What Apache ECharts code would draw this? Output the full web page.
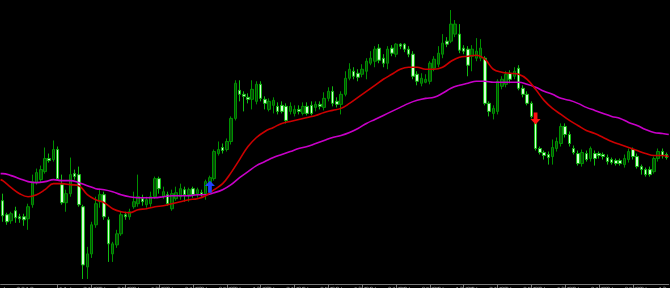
<!DOCTYPE html>
<html><head><meta charset="utf-8">
<script src="https://cdn.jsdelivr.net/npm/echarts@6/dist/echarts.min.js"></script>
<style>html,body{margin:0;padding:0;background:#000;}#c{width:670px;height:288px;}</style>
</head><body><div id="c"></div>
<script>
const opens = [
1.1284,1.1270,1.1264,1.1274,1.1268,1.1268,1.1266,1.1280,1.1302,1.1305,
1.1313,1.1326,1.1325,1.1335,1.1300,1.1282,1.1291,1.1311,1.1310,1.1278,
1.1218,1.1231,1.1260,1.1283,1.1290,1.1265,1.1231,1.1240,1.1251,1.1270,
1.1268,1.1278,1.1281,1.1286,1.1280,1.1281,1.1288,1.1306,1.1288,1.1290,
1.1276,1.1286,1.1288,1.1295,1.1290,1.1296,1.1291,1.1292,1.1291,1.1301,
1.1306,1.1331,1.1337,1.1335,1.1343,1.1366,1.1394,1.1390,1.1387,1.1385,
1.1383,1.1400,1.1385,1.1375,1.1379,1.1378,1.1379,1.1378,1.1373,1.1371,
1.1375,1.1371,1.1378,1.1379,1.1377,1.1380,1.1377,1.1386,1.1393,1.1383,
1.1380,1.1390,1.1406,1.1413,1.1411,1.1410,1.1413,1.1421,1.1423,1.1436,
1.1426,1.1421,1.1436,1.1430,1.1440,1.1440,1.1435,1.1430,1.1410,1.1401,
1.1402,1.1403,1.1416,1.1420,1.1430,1.1443,1.1443,1.1450,1.1450,1.1436,
1.1435,1.1428,1.1426,1.1426,1.1426,1.1381,1.1371,1.1373,1.1398,1.1400,
1.1411,1.1408,1.1416,1.1396,1.1390,1.1381,1.1365,1.1336,1.1332,1.1330,
1.1328,1.1336,1.1341,1.1358,1.1350,1.1336,1.1331,1.1321,1.1331,1.1326,
1.1331,1.1331,1.1330,1.1327,1.1325,1.1324,1.1324,1.1320,1.1325,1.1335,
1.1328,1.1318,1.1315,1.1315,1.1313,1.1326,1.1333,1.1330];
const closes = [
1.1269,1.1263,1.1271,1.1267,1.1266,1.1265,1.1278,1.1303,1.1312,1.1315,
1.1326,1.1324,1.1335,1.1306,1.1282,1.1291,1.1310,1.1308,1.1280,1.1220,
1.1231,1.1260,1.1281,1.1290,1.1268,1.1241,1.1241,1.1251,1.1270,1.1268,
1.1273,1.1283,1.1288,1.1283,1.1285,1.1288,1.1306,1.1296,1.1293,1.1281,
1.1291,1.1292,1.1296,1.1290,1.1295,1.1290,1.1295,1.1290,1.1303,1.1307,
1.1333,1.1335,1.1334,1.1343,1.1366,1.1401,1.1390,1.1388,1.1385,1.1395,
1.1400,1.1386,1.1381,1.1383,1.1384,1.1373,1.1373,1.1364,1.1378,1.1375,
1.1373,1.1378,1.1371,1.1371,1.1380,1.1378,1.1386,1.1393,1.1381,1.1380,
1.1390,1.1406,1.1415,1.1408,1.1407,1.1415,1.1423,1.1426,1.1435,1.1424,
1.1421,1.1435,1.1431,1.1440,1.1438,1.1435,1.1430,1.1408,1.1403,1.1406,
1.1405,1.1421,1.1425,1.1431,1.1441,1.1440,1.1460,1.1460,1.1434,1.1433,
1.1419,1.1435,1.1433,1.1436,1.1381,1.1373,1.1376,1.1403,1.1405,1.1410,
1.1405,1.1413,1.1396,1.1390,1.1381,1.1368,1.1336,1.1332,1.1329,1.1327,
1.1337,1.1343,1.1358,1.1350,1.1341,1.1332,1.1321,1.1332,1.1325,1.1336,
1.1326,1.1329,1.1328,1.1323,1.1322,1.1321,1.1321,1.1326,1.1333,1.1328,
1.1318,1.1315,1.1310,1.1310,1.1326,1.1333,1.1329,1.1327];
const lows = [
1.1263,1.1260,1.1261,1.1262,1.1262,1.1259,1.1255,1.1277,1.1300,1.1302,
1.1311,1.1322,1.1323,1.1304,1.1280,1.1273,1.1288,1.1305,1.1278,1.1206,
1.1206,1.1227,1.1257,1.1277,1.1265,1.1223,1.1223,1.1237,1.1249,1.1265,
1.1265,1.1276,1.1278,1.1279,1.1277,1.1278,1.1286,1.1291,1.1286,1.1279,
1.1274,1.1284,1.1285,1.1283,1.1283,1.1287,1.1287,1.1288,1.1285,1.1299,
1.1304,1.1329,1.1331,1.1333,1.1340,1.1364,1.1383,1.1373,1.1381,1.1375,
1.1380,1.1383,1.1375,1.1373,1.1371,1.1370,1.1371,1.1361,1.1370,1.1368,
1.1370,1.1369,1.1369,1.1369,1.1373,1.1375,1.1374,1.1383,1.1378,1.1377,
1.1370,1.1388,1.1404,1.1405,1.1403,1.1407,1.1405,1.1419,1.1417,1.1421,
1.1417,1.1415,1.1428,1.1427,1.1435,1.1432,1.1427,1.1405,1.1399,1.1398,
1.1401,1.1400,1.1413,1.1417,1.1426,1.1437,1.1441,1.1447,1.1431,1.1430,
1.1408,1.1413,1.1423,1.1423,1.1379,1.1368,1.1365,1.1370,1.1395,1.1397,
1.1401,1.1405,1.1394,1.1387,1.1379,1.1366,1.1334,1.1330,1.1325,1.1320,
1.1320,1.1333,1.1338,1.1347,1.1338,1.1330,1.1319,1.1318,1.1323,1.1323,
1.1319,1.1326,1.1325,1.1320,1.1320,1.1319,1.1319,1.1317,1.1322,1.1325,
1.1316,1.1310,1.1308,1.1308,1.1311,1.1323,1.1326,1.1325];
const highs = [
1.1291,1.1272,1.1273,1.1278,1.1271,1.1271,1.1281,1.1310,1.1316,1.1319,
1.1337,1.1331,1.1344,1.1338,1.1310,1.1295,1.1327,1.1315,1.1318,1.1280,
1.1238,1.1263,1.1288,1.1296,1.1293,1.1268,1.1243,1.1255,1.1273,1.1273,
1.1276,1.1293,1.1310,1.1290,1.1288,1.1293,1.1308,1.1308,1.1298,1.1293,
1.1295,1.1298,1.1301,1.1298,1.1297,1.1298,1.1297,1.1295,1.1305,1.1309,
1.1335,1.1343,1.1341,1.1346,1.1368,1.1404,1.1404,1.1393,1.1391,1.1404,
1.1403,1.1403,1.1388,1.1386,1.1387,1.1382,1.1383,1.1381,1.1382,1.1379,
1.1379,1.1382,1.1382,1.1383,1.1383,1.1383,1.1392,1.1397,1.1398,1.1387,
1.1393,1.1413,1.1421,1.1417,1.1415,1.1420,1.1426,1.1433,1.1438,1.1440,
1.1430,1.1438,1.1439,1.1441,1.1441,1.1441,1.1438,1.1433,1.1413,1.1411,
1.1410,1.1423,1.1428,1.1438,1.1450,1.1447,1.1474,1.1464,1.1460,1.1439,
1.1438,1.1439,1.1446,1.1445,1.1428,1.1383,1.1379,1.1405,1.1408,1.1413,
1.1414,1.1417,1.1419,1.1399,1.1393,1.1383,1.1367,1.1338,1.1334,1.1333,
1.1345,1.1347,1.1361,1.1361,1.1353,1.1339,1.1334,1.1335,1.1334,1.1338,
1.1334,1.1333,1.1332,1.1330,1.1327,1.1326,1.1326,1.1330,1.1336,1.1337,
1.1331,1.1320,1.1317,1.1318,1.1328,1.1336,1.1336,1.1332];

// moving averages read at sample bar positions
const maBars = [-0.5,0,2,4,6,8,10,12,14,16,18,20,22,24,26,28,30,32,34,36,38,40,42,44,46,48,50,52,54,56,58,60,62,64,66,68,70,72,74,76,78,80,82,84,86,88,90,92,94,96,98,100,102,104,106,108,110,112,114,116,118,120,122,124,126,128,130,132,134,136,138,140,142,144,146,148,150,152,154,156,157.5];
const maFast = [
1.1305,1.1304,1.1297,1.1291,1.1288,1.1290,1.1295,1.1301,1.1301,1.1300,
1.1299,1.1290,1.1285,1.1282,1.1276,1.1273,1.1272,1.1275,1.1276,1.1278,
1.1279,1.1281,1.1283,1.1285,1.1286,1.1289,1.1295,1.1301,1.1312,1.1325,
1.1338,1.1347,1.1353,1.1357,1.1361,1.1363,1.1365,1.1367,1.1369,1.1372,
1.1374,1.1376,1.1381,1.1387,1.1393,1.1399,1.1405,1.1410,1.1415,1.1417,
1.1417,1.1415,1.1415,1.1417,1.1423,1.1427,1.1428,1.1429,1.1425,1.1415,
1.1412,1.1411,1.1410,1.1405,1.1395,1.1384,1.1376,1.1370,1.1364,1.1359,
1.1354,1.1351,1.1347,1.1343,1.1340,1.1337,1.1334,1.1331,1.1329,1.1329,
1.1328];
const maSlow = [
1.1311,1.1311,1.1309,1.1306,1.1303,1.1302,1.1303,1.1305,1.1304,1.1304,
1.1302,1.1299,1.1296,1.1295,1.1293,1.1290,1.1288,1.1287,1.1287,1.1287,
1.1288,1.1289,1.1289,1.1289,1.1290,1.1290,1.1292,1.1295,1.1300,1.1307,
1.1313,1.1319,1.1323,1.1327,1.1330,1.1333,1.1336,1.1338,1.1341,1.1344,
1.1347,1.1349,1.1352,1.1356,1.1361,1.1365,1.1369,1.1373,1.1377,1.1381,
1.1384,1.1386,1.1387,1.1391,1.1396,1.1399,1.1401,1.1403,1.1403,1.1402,
1.1402,1.1402,1.1402,1.1400,1.1397,1.1393,1.1390,1.1386,1.1384,1.1381,
1.1377,1.1374,1.1371,1.1368,1.1366,1.1362,1.1359,1.1355,1.1352,1.1351,
1.1350];

const buySignalBars = [49];
const buySignalPrices = [1.1298];
const sellSignalBars = [126];
const sellSignalPrices = [1.1366];

const tickLabels = ['11 Jun 13:00','11 Jun 21:00','12 Jun 05:00','12 Jun 13:00','12 Jun 21:00','13 Jun 05:00','13 Jun 13:00','13 Jun 21:00','14 Jun 05:00','14 Jun 13:00','14 Jun 21:00','17 Jun 05:00','17 Jun 13:00','17 Jun 21:00','18 Jun 05:00','18 Jun 13:00','18 Jun 21:00','19 Jun 05:00','19 Jun 13:00','19 Jun 21:00'];
const firstTickBar = 5, tickStep = 8;

const categories = opens.map((_, i) => i);
const candles = opens.map((o, i) => [o, closes[i], lows[i], highs[i]]);
const isTick = (i) => i >= firstTickBar && (i - firstTickBar) % tickStep === 0;

const chart = echarts.init(document.getElementById('c'), null, {renderer: 'canvas'});
chart.setOption({
  backgroundColor: '#000000',
  animation: false,
  grid: {left: 0.6, right: 1.2, top: 0, bottom: 4, containLabel: false, outerBoundsMode: 'none'},
  graphic: [
    {type: 'text', left: 1, top: -6, z: 10, style: {text: 'EURUSD,H1  1.1327 1.1329 1.1325 1.1327', fill: '#a0a0a0', fontSize: 7, fontFamily: 'DejaVu Sans'}},
    {type: 'text', left: -8, top: 287, z: 10, style: {text: '11 Jun 2019', fill: '#8c8c8c', fontSize: 7, fontFamily: 'DejaVu Sans'}}
  ],
  xAxis: [{
    type: 'category', data: categories, boundaryGap: true,
    axisLine: {show: true, lineStyle: {color: '#7a7a7a', width: 1}},
    axisTick: {show: true, alignWithLabel: true, interval: (i) => isTick(i), length: 5, lineStyle: {color: '#7a7a7a'}},
    axisLabel: {interval: (i) => isTick(i), formatter: (v, i) => tickLabels[(i - firstTickBar) / tickStep] || '',
      align: 'left', margin: 3, fontSize: 7, color: '#8c8c8c', fontFamily: 'DejaVu Sans', padding: [0, 0, 0, 1]},
    splitLine: {show: false}
  }, {
    type: 'value', min: -0.5, max: opens.length - 0.5, show: false
  }],
  yAxis: {type: 'value', min: 1.1201, max: 1.1484, show: false, splitLine: {show: false}},
  series: [{
    type: 'candlestick', data: candles, barWidth: 3,
    itemStyle: {color: '#064d06', borderColor: '#009000', color0: '#d4ffd4', borderColor0: '#10b810', borderWidth: 1},
    z: 2
  }, {
    type: 'line', xAxisIndex: 1, data: maBars.map((b, i) => [b, maSlow[i]]),
    smooth: 0.4, showSymbol: false, lineStyle: {color: '#c800c8', width: 1.6}, z: 3
  }, {
    type: 'line', xAxisIndex: 1, data: maBars.map((b, i) => [b, maFast[i]]),
    smooth: 0.4, showSymbol: false, lineStyle: {color: '#cc0000', width: 1.6}, z: 4
  }, {
    type: 'scatter', data: buySignalBars.map((b, i) => [b, buySignalPrices[i]]),
    symbol: 'path://M4,0 L8,4 L5.5,4 L5.5,9 L2.5,9 L2.5,4 L0,4 Z', symbolSize: [10, 12],
    itemStyle: {color: '#2040ff', opacity: 1}, z: 6
  }, {
    type: 'scatter', data: sellSignalBars.map((b, i) => [b, sellSignalPrices[i]]),
    symbol: 'path://M2.5,0 L5.5,0 L5.5,5 L8,5 L4,9 L0,5 L2.5,5 Z', symbolSize: [10, 12],
    itemStyle: {color: '#ff1010', opacity: 1}, z: 6
  }]
});
</script>
</body></html>
